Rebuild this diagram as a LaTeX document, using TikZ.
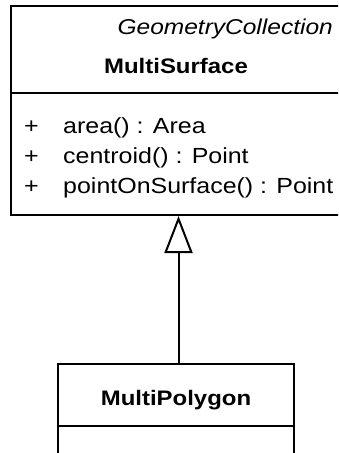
\documentclass[tikz,border=0pt]{standalone}
\usepackage{fontspec}
\setmainfont[FakeStretch=1.14]{Liberation Sans}
\usetikzlibrary{arrows.meta}
\begin{document}
\begin{tikzpicture}[x=1pt,y=-1pt,
  box/.style={draw=black, line width=2pt, inner sep=0pt, anchor=north west},
  txt/.style={font=\fontsize{21.9}{26}\selectfont, inner sep=0pt},
  gen/.style={draw=black, line width=2pt, -{Triangle[open, length=37pt, width=28pt]}}]
\useasboundingbox (0,0) rectangle (338,453);
\clip (0,0) rectangle (338,453);
% top class
\node[box, minimum width=335pt, minimum height=209pt] (ms) at (10,5) {};
\coordinate (s1) at (10,93);
\draw[line width=2pt] (s1) -- (s1 -| ms.east);
\node[txt, anchor=base east, font=\fontsize{21.5}{26}\selectfont\itshape] (stereo) at (333,34) {GeometryCollection};
\node[txt, anchor=base, font=\fontsize{21}{25}\selectfont\bfseries] (msname) at (176,73) {MultiSurface};
\node[txt, anchor=base west] (p1) at (24,133) {+};
\node[txt, anchor=base west] (m1) at (63,133) {area() : Area};
\node[txt, anchor=base west] (p2) at (24,163) {+};
\node[txt, anchor=base west] (m2) at (63,163) {centroid() : Point};
\node[txt, anchor=base west] (p3) at (24,193) {+};
\node[txt, anchor=base west] (m3) at (63,193) {pointOnSurface() : Point};
% bottom class
\node[box, minimum width=236pt, minimum height=137pt] (mp) at (57,363) {};
\coordinate (s2) at (57,426);
\draw[line width=2pt] (s2) -- (s2 -| mp.east);
\node[txt, anchor=base, font=\fontsize{21}{25}\selectfont\bfseries] (mpname) at (176,405) {MultiPolygon};
% generalization
\draw[gen] (ms.south |- mp.north) -- (ms.south);
\end{tikzpicture}
\end{document}
